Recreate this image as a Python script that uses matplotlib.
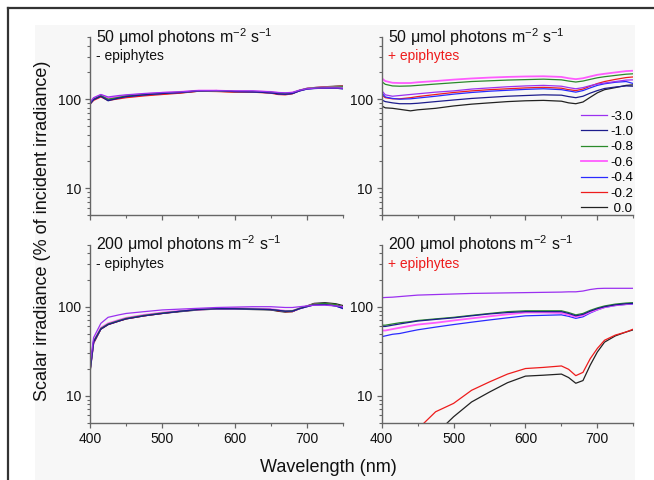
import matplotlib
matplotlib.use('Agg')
import matplotlib.pyplot as plt
from matplotlib.lines import Line2D
from matplotlib.patches import Rectangle
from matplotlib.ticker import LogLocator, NullFormatter, FixedFormatter, FixedLocator

plt.rcParams['font.family'] = ['Liberation Sans', 'DejaVu Sans']
plt.rcParams['mathtext.fontset'] = 'custom'
plt.rcParams['mathtext.rm'] = 'Liberation Sans'
plt.rcParams['mathtext.it'] = 'Liberation Sans:italic'
plt.rcParams['mathtext.bf'] = 'Liberation Sans:bold'

# ---------------- data ----------------
wl = [400, 405, 415, 425, 440, 450, 475, 500, 525, 550, 575, 600, 625,
      650, 660, 670, 680, 690, 700, 710, 725, 740, 750]

depths = ["-3.0", "-1.0", "-0.8", "-0.6", "-0.4", "-0.2", "0.0"]
colors = ["#9b30f0", "#1c1c8c", "#2a8a2a", "#ff5cff", "#2a2aff", "#ee1c1c", "#222222"]

# 50 umol, - epiphytes
l50_minus = {
    "-3.0": [92, 104, 113, 106, 110, 112, 116, 119, 121, 125, 125, 124, 124, 121, 119, 118, 119, 126, 131, 133, 134, 134, 133],
    "-1.0": [88, 99, 108, 96, 103, 107, 112, 116, 119, 124, 125, 122, 121, 118, 115, 114, 116, 124, 130, 132, 133, 133, 131],
    "-0.8": [90, 100, 110, 100, 105, 109, 113, 117, 120, 124, 124, 122, 122, 120, 117, 116, 118, 126, 132, 134, 136, 137, 138],
    "-0.6": [91, 102, 112, 103, 107, 110, 114, 118, 121, 125, 125, 123, 123, 121, 118, 117, 119, 126, 132, 134, 136, 137, 138],
    "-0.4": [89, 99, 109, 98, 104, 107, 112, 116, 119, 124, 124, 122, 121, 118, 115, 114, 116, 124, 130, 132, 133, 133, 131],
    "-0.2": [88, 97, 106, 97, 101, 104, 109, 113, 117, 123, 122, 120, 120, 117, 113, 112, 115, 125, 132, 135, 137, 139, 140],
    "0.0":  [89, 99, 108, 99, 104, 107, 111, 115, 118, 123, 123, 121, 121, 118, 115, 114, 116, 126, 132, 135, 138, 140, 141],
}

# 50 umol, + epiphytes
l50_plus = {
    "-3.0": [125, 112, 108, 110, 113, 115, 120, 124, 130, 134, 138, 141, 143, 140, 135, 131, 135, 142, 148, 152, 158, 164, 165],
    "-1.0": [98, 94, 91, 89, 89, 90, 94, 98, 102, 105, 108, 110, 112, 111, 107, 104, 108, 117, 125, 132, 137, 141, 140],
    "-0.8": [158, 147, 141, 140, 141, 143, 148, 153, 158, 161, 164, 166, 168, 165, 160, 156, 160, 167, 174, 179, 185, 191, 193],
    "-0.6": [172, 160, 153, 152, 152, 155, 160, 166, 171, 175, 178, 180, 181, 178, 172, 168, 172, 180, 188, 193, 200, 207, 209],
    "-0.4": [118, 106, 102, 100, 101, 103, 108, 114, 119, 123, 126, 129, 131, 128, 124, 120, 125, 134, 143, 149, 155, 158, 150],
    "-0.2": [112, 104, 101, 101, 104, 107, 113, 119, 124, 128, 131, 134, 136, 133, 128, 125, 130, 140, 150, 158, 167, 175, 178],
    "0.0":  [84, 80, 79, 77, 74, 76, 79, 84, 88, 91, 94, 96, 97, 95, 91, 89, 93, 105, 118, 128, 135, 143, 145],
}

# 200 umol, - epiphytes
h200_minus = {
    "-3.0": [22, 45, 65, 76, 81, 84, 88, 92, 94, 96, 98, 99, 100, 100, 99, 98, 98, 100, 102, 104, 104, 102, 100],
    "-1.0": [19, 40, 56, 63, 69, 73, 79, 84, 89, 93, 95, 95, 94, 93, 91, 89, 89, 95, 100, 105, 106, 102, 96],
    "-0.8": [19, 41, 57, 64, 70, 74, 80, 85, 89, 93, 95, 95, 94, 93, 91, 89, 90, 96, 101, 107, 109, 106, 100],
    "-0.6": [20, 41, 58, 65, 71, 75, 81, 86, 90, 93, 95, 95, 95, 94, 92, 90, 90, 96, 101, 106, 107, 104, 99],
    "-0.4": [19, 40, 57, 64, 70, 74, 80, 85, 89, 93, 94, 94, 94, 93, 91, 89, 89, 95, 100, 105, 106, 102, 95],
    "-0.2": [19, 39, 56, 63, 69, 73, 79, 84, 89, 93, 95, 96, 95, 93, 90, 88, 88, 95, 101, 107, 108, 105, 100],
    "0.0":  [18, 39, 56, 63, 69, 73, 79, 84, 88, 92, 94, 94, 93, 92, 89, 87, 88, 96, 102, 109, 111, 108, 103],
}

# 200 umol, + epiphytes
h200_plus = {
    "-3.0": [126, 127, 128, 130, 133, 135, 137, 139, 141, 142, 143, 144, 145, 146, 147, 147, 150, 156, 160, 161, 161, 161, 161],
    "-1.0": [60, 60, 62, 64, 67, 69, 72, 75, 79, 83, 86, 88, 88, 88, 84, 79, 82, 89, 95, 100, 105, 108, 109],
    "-0.8": [62, 62, 64, 66, 68, 70, 73, 76, 80, 84, 88, 90, 90, 90, 86, 81, 84, 91, 97, 102, 107, 110, 111],
    "-0.6": [54, 54, 56, 58, 61, 63, 66, 70, 74, 78, 82, 86, 86, 85, 81, 77, 80, 87, 93, 99, 104, 107, 109],
    "-0.4": [46, 47, 49, 50, 53, 55, 59, 63, 67, 71, 75, 79, 80, 81, 78, 74, 77, 85, 92, 98, 103, 106, 107],
    "-0.2": [1.8, 2.0, 2.4, 2.8, 3.6, 4.2, 6.6, 8.2, 11.5, 14.3, 17.5, 20.2, 20.8, 21.6, 19.8, 16.8, 18.3, 26, 34, 42, 48, 52, 56],
    "0.0":  [0.8, 0.9, 1.1, 1.4, 1.9, 2.4, 3.7, 5.8, 8.5, 11.0, 14.0, 16.6, 17.0, 17.5, 16.0, 13.8, 14.8, 22, 31, 40, 47, 52, 55],
}

panel_titles = [r"50 μmol photons m$^{-2}$ s$^{-1}$", r"50 μmol photons m$^{-2}$ s$^{-1}$",
                r"200 μmol photons m$^{-2}$ s$^{-1}$", r"200 μmol photons m$^{-2}$ s$^{-1}$"]
panel_subtitles = ["- epiphytes", "+ epiphytes", "- epiphytes", "+ epiphytes"]

# ---------------- figure ----------------
W, H = 654, 480
fig = plt.figure(figsize=(W / 100, H / 100), dpi=100)
fig.patch.set_facecolor('white')
fig.patches.append(Rectangle((35 / W, 0), 600 / W, (H - 25) / H, transform=fig.transFigure,
                             facecolor='#f7f7f7', edgecolor='none', zorder=-10))
fig.add_artist(Line2D([8 / W, 1], [1 - 8 / H] * 2, transform=fig.transFigure, color='#333333', lw=1.6))
fig.add_artist(Line2D([8 / W] * 2, [0, 1 - 8 / H], transform=fig.transFigure, color='#333333', lw=1.6))

lefts = [90 / W, 381.7 / W]
widths = [253 / W, 251.6 / W]
bottoms = [1 - 215 / H, 1 - 422.5 / H]
height = 178 / H

datasets = [l50_minus, l50_plus, h200_minus, h200_plus]
for i, data in enumerate(datasets):
    r, c = divmod(i, 2)
    ax = fig.add_axes([lefts[c], bottoms[r], widths[c], height])
    ax.set_facecolor('none')
    handles = {}
    for d, col in reversed(list(zip(depths, colors))):
        lw = 1.3 if d == "-0.6" else 0.9
        h, = ax.plot(wl, data[d], color=col, lw=lw, label=d)
        handles[d] = h
    ax.set_yscale('log')
    ax.set_ylim(5, 500)
    ax.set_xlim(400, 750)
    for s in ['top', 'right']:
        ax.spines[s].set_visible(False)
    for s in ['left', 'bottom']:
        ax.spines[s].set_color('#666666')
        ax.spines[s].set_linewidth(1.0)
    ax.xaxis.set_major_locator(FixedLocator([400, 500, 600, 700]))
    ax.xaxis.set_minor_locator(FixedLocator([450, 550, 650, 750]))
    ax.yaxis.set_major_locator(FixedLocator([10, 100]))
    ax.yaxis.set_major_formatter(FixedFormatter(["10", "100"]))
    ax.yaxis.set_minor_locator(LogLocator(base=10, subs=range(2, 10)))
    ax.yaxis.set_minor_formatter(NullFormatter())
    ax.tick_params(which='both', direction='out', color='#666666', labelsize=10, labelcolor='#111111')
    ax.tick_params(which='major', length=3.5, width=0.9, pad=3)
    ax.tick_params(which='minor', length=2.5, width=0.8)
    if r == 0:
        ax.tick_params(axis='x', labelbottom=False)
    ax.text(0.024, 1.0, panel_titles[i], transform=ax.transAxes, fontsize=11.5,
            va='center', ha='left', color='#111111')
    ax.text(0.024, 0.893, panel_subtitles[i], transform=ax.transAxes, fontsize=10,
            va='center', ha='left', color='#ee1c1c' if c == 1 else '#111111')
    if i == 1:
        labels = [d if d.startswith('-') else ' ' + d for d in depths]
        ax.legend([handles[d] for d in depths], labels, loc='lower right',
                  bbox_to_anchor=(1.0, 0.0), frameon=False, fontsize=9.5,
                  handlelength=2.0, handletextpad=0.25, labelspacing=0.24,
                  borderpad=0.0, borderaxespad=0.0)

fig.text(43 / W, 0.52, "Scalar irradiance (% of incident irradiance)", rotation=90,
         ha='center', va='center', fontsize=13, color='#111111')
fig.text(328 / W, 1 - 467 / H, "Wavelength (nm)", ha='center', va='center',
         fontsize=13, color='#111111')

fig.savefig('out.png', dpi=100)
